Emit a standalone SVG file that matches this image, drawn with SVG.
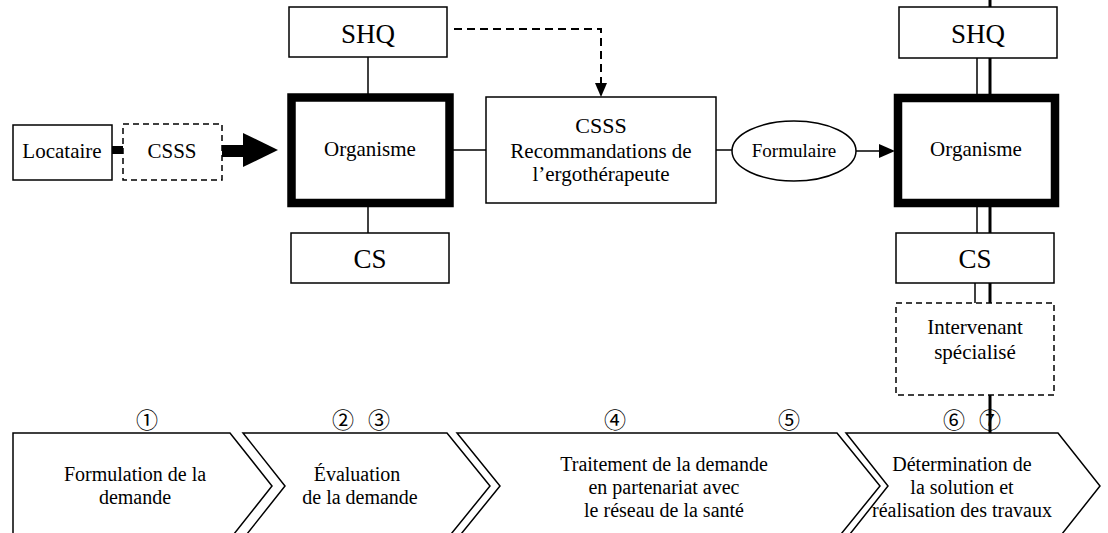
<svg xmlns="http://www.w3.org/2000/svg" width="1108" height="533" viewBox="0 0 1108 533">
<style>
.box{fill:#fff;stroke:#000;stroke-width:1.5}
.dbox{fill:#fff;stroke:#000;stroke-width:1.5;stroke-dasharray:6,4}
.org{fill:#fff;stroke:#000;stroke-width:8.5}
.t{font-family:"Liberation Serif","Times New Roman",serif;fill:#000;text-anchor:middle}
.n{font-family:"Noto Sans CJK JP","DejaVu Sans",sans-serif;font-size:22px;fill:#000;text-anchor:middle}
.ln{stroke:#000;stroke-width:1.5;fill:none}
.thick{stroke:#000;stroke-width:3;fill:none}
.chev{fill:#fff;stroke:#000;stroke-width:1.5}
</style>
<g id="connectors">
<line x1="112" y1="150" x2="123" y2="150" stroke="#000" stroke-width="8"/>
<rect x="222" y="145" width="22" height="12" fill="#000"/>
<path d="M243,133 L278,150 L243,167 Z" fill="#000"/>
<line class="ln" x1="368" y1="57" x2="368" y2="94"/>
<line class="ln" x1="368" y1="207" x2="368" y2="233"/>
<line class="ln" x1="453" y1="150" x2="486" y2="150"/>
<path d="M454,29 L601,29 L601,83" fill="none" stroke="#000" stroke-width="2" stroke-dasharray="8,5"/>
<path d="M595,83 L607,83 L601,97 Z" fill="#000"/>
<line class="ln" x1="716" y1="150" x2="732" y2="150"/>
<line class="ln" x1="856" y1="151" x2="880" y2="151"/>
<path d="M879,144 L895,151 L879,158 Z" fill="#000"/>
<line class="thick" x1="990" y1="0" x2="990" y2="7"/>
<line class="thick" x1="990" y1="58" x2="990" y2="94"/>
<line class="ln" x1="977" y1="58" x2="977" y2="94"/>
<line class="thick" x1="990" y1="207" x2="990" y2="233"/>
<line class="ln" x1="977" y1="207" x2="977" y2="233"/>
<line class="thick" x1="990" y1="283" x2="990" y2="304"/>
<line class="ln" x1="975" y1="283" x2="975" y2="304"/>
</g>
<g id="chevrons">
<path class="chev" d="M13,433 L230,433 L272,486 L230,539 L13,539 Z"/>
<path class="chev" d="M243,433 L447,433 L490,486 L447,539 L243,539 L285,486 Z"/>
<path class="chev" d="M457,433 L837,433 L880,486 L837,539 L457,539 L500,486 Z"/>
<path class="chev" d="M846,433 L1058,433 L1100,486 L1058,539 L846,539 L888,486 Z"/>
<text class="t" font-size="20" x="135" y="481">Formulation de la</text>
<text class="t" font-size="20" x="135" y="504">demande</text>
<text class="t" font-size="20" x="357" y="481">Évaluation</text>
<text class="t" font-size="20" x="360" y="504">de la demande</text>
<text class="t" font-size="20" x="664" y="471">Traitement de la demande</text>
<text class="t" font-size="20" x="664" y="494">en partenariat avec</text>
<text class="t" font-size="20" x="664" y="517">le réseau de la santé</text>
<text class="t" font-size="20" x="962" y="471">Détermination de</text>
<text class="t" font-size="20" x="962" y="494">la solution et</text>
<text class="t" font-size="20" x="962" y="517">réalisation des travaux</text>
</g>
<g id="numbers">
<text class="n" x="147" y="428">①</text>
<text class="n" x="343" y="428">②</text>
<text class="n" x="379" y="428">③</text>
<text class="n" x="615" y="428">④</text>
<text class="n" x="789" y="428">⑤</text>
<text class="n" x="954" y="428">⑥</text>
<text class="n" x="990" y="428">⑦</text>
</g>
<line class="thick" x1="990" y1="395" x2="990" y2="433"/>
<g id="locataire">
<rect class="box" x="13" y="125" width="99" height="55"/>
<text class="t" font-size="21" x="62" y="158">Locataire</text>
</g>
<g id="csss-left">
<rect class="dbox" x="123" y="124" width="99" height="56"/>
<text class="t" font-size="21" x="172" y="158">CSSS</text>
</g>
<g id="shq-left">
<rect class="box" x="289" y="7" width="158" height="50"/>
<text class="t" font-size="27" x="368" y="43">SHQ</text>
</g>
<g id="organisme-left">
<rect class="org" x="291.5" y="97.5" width="158" height="105.5"/>
<text class="t" font-size="21" x="370" y="156">Organisme</text>
</g>
<g id="cs-left">
<rect class="box" x="291" y="233" width="158" height="50"/>
<text class="t" font-size="27" x="370" y="268">CS</text>
</g>
<g id="csss-ergo">
<rect class="box" x="486" y="97" width="230" height="106"/>
<text class="t" font-size="22" x="601" y="133">CSSS</text>
<text class="t" font-size="21" x="601" y="158">Recommandations de</text>
<text class="t" font-size="21" x="601" y="181">l’ergothérapeute</text>
</g>
<g id="formulaire">
<ellipse class="box" cx="794" cy="151" rx="62" ry="30"/>
<text class="t" font-size="19" x="794" y="157">Formulaire</text>
</g>
<g id="shq-right">
<rect class="box" x="899" y="7" width="158" height="51"/>
<text class="t" font-size="27" x="978" y="43">SHQ</text>
</g>
<g id="organisme-right">
<rect class="org" x="898" y="98" width="157" height="105"/>
<text class="t" font-size="21" x="976" y="156">Organisme</text>
</g>
<g id="cs-right">
<rect class="box" x="896" y="233" width="158" height="50"/>
<text class="t" font-size="27" x="975" y="268">CS</text>
</g>
<g id="intervenant">
<rect class="dbox" x="896" y="303" width="158" height="92"/>
<text class="t" font-size="21" x="975" y="334">Intervenant</text>
<text class="t" font-size="21" x="975" y="359">spécialisé</text>
</g>
</svg>
